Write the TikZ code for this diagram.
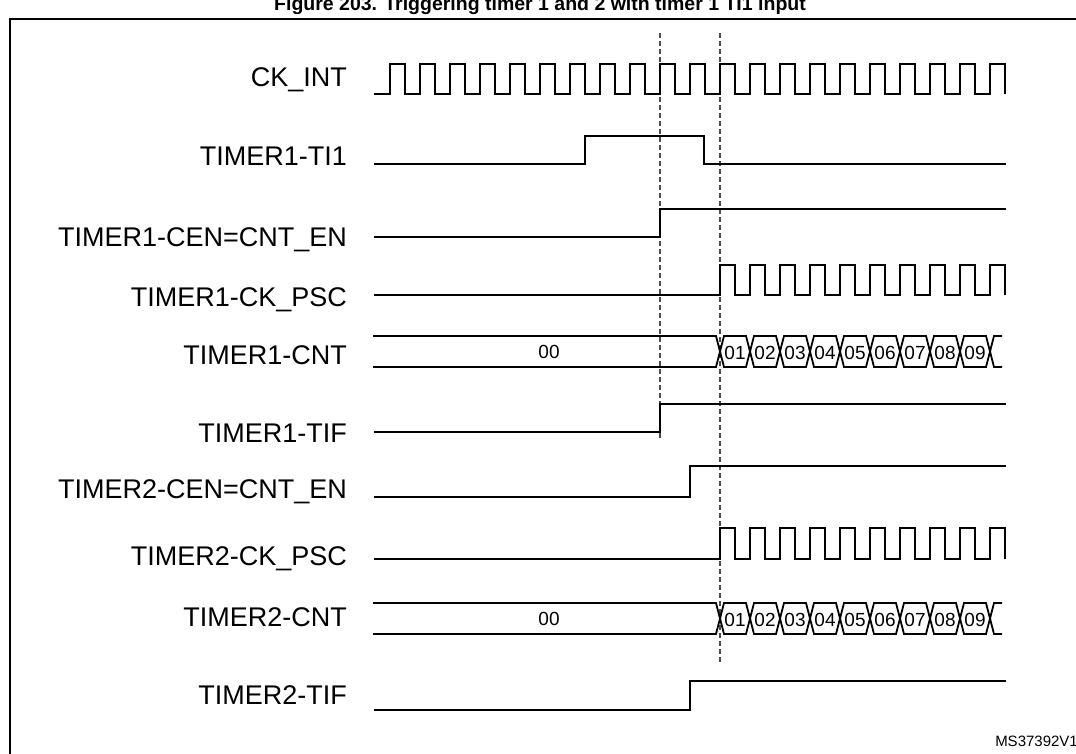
\documentclass[tikz,border=0pt]{standalone}
\usepackage{fontspec}
\setmainfont{Liberation Sans}
\begin{document}
\begin{tikzpicture}[x=1pt,y=-1pt,
  sig/.style={line width=1.8pt, line join=miter},
  frame/.style={line width=2.6pt},
  guide/.style={line width=1.2pt, draw=black!70, dash pattern=on 5pt off 3pt},
  lbl/.style={anchor=base east, inner sep=0pt, font=\fontsize{27}{30}\selectfont},
  val/.style={inner sep=0pt, font=\fontsize{19}{21}\selectfont},
  ttl/.style={anchor=base, inner sep=0pt, font=\fontsize{19.5}{22}\selectfont\bfseries},
  ref/.style={anchor=base east, inner sep=0pt, font=\fontsize{15}{18}\selectfont}]
\useasboundingbox (0,0) rectangle (1076,753);
\fill[white] (0,0) rectangle (1076,753);
\clip (0,0) rectangle (1076,753);

% title (cut at top) and frame
\node[ttl] (title) at (540,10) {Figure 203. Triggering timer 1 and 2 with timer 1 TI1 input};
\draw[frame] (1100,19) -- (10,19) -- (10,780);

% dashed guides
\draw[guide] (660,33) -- (660,440);
\draw[guide] (720,33) -- (720,662);

% labels
\node[lbl] (lck)   at (347,86)  {CK\_INT};
\node[lbl] (lti1)  at (347,165) {TIMER1-TI1};
\node[lbl] (lcen1) at (347,246) {TIMER1-CEN=CNT\_EN};
\node[lbl] (lpsc1) at (347,306) {TIMER1-CK\_PSC};
\node[lbl] (lcnt1) at (347,364) {TIMER1-CNT};
\node[lbl] (ltif1) at (347,442) {TIMER1-TIF};
\node[lbl] (lcen2) at (347,498) {TIMER2-CEN=CNT\_EN};
\node[lbl] (lpsc2) at (347,565) {TIMER2-CK\_PSC};
\node[lbl] (lcnt2) at (347,626) {TIMER2-CNT};
\node[lbl] (ltif2) at (347,704) {TIMER2-TIF};

% CK_INT
\draw[sig] (374,94) \foreach \k in {0,...,20}{
  -- ({390+30*\k},94) -- ({390+30*\k},64) -- ({405+30*\k},64) -- ({405+30*\k},94)};

% TIMER1-TI1
\draw[sig] (374,164) -- (585,164) -- (585,136) -- (704,136) -- (704,164) -- (1006,164);
% TIMER1-CEN
\draw[sig] (374,237) -- (660,237) -- (660,209) -- (1006,209);
% TIMER1-CK_PSC
\draw[sig] (374,295) \foreach \k in {0,...,9}{
  -- ({720+30*\k},295) -- ({720+30*\k},265) -- ({735+30*\k},265) -- ({735+30*\k},295)};
% TIMER1-CNT
\draw[sig] (373,336) -- (716,336) -- (720,351.5) -- (716,367) -- (373,367);
\node[val] (v1a) at (549,351.5) {00};
\foreach \i in {1,...,9}{
  \draw[sig] ({720+30*(\i-1)},351.5) -- ({724+30*(\i-1)},336) -- ({746+30*(\i-1)},336)
     -- ({750+30*(\i-1)},351.5) -- ({746+30*(\i-1)},367) -- ({724+30*(\i-1)},367) -- cycle;
  \node[val] at ({735+30*(\i-1)},352.5) {0\i};
}
\draw[sig] (1002,336) -- (994,336) -- (990,351.5) -- (994,367) -- (1002,367);
% TIMER1-TIF
\draw[sig] (374,432) -- (660,432) -- (660,404) -- (1006,404);

% TIMER2-CEN
\draw[sig] (374,497) -- (690,497) -- (690,466) -- (1006,466);
% TIMER2-CK_PSC
\draw[sig] (374,559) \foreach \k in {0,...,9}{
  -- ({720+30*\k},559) -- ({720+30*\k},528) -- ({735+30*\k},528) -- ({735+30*\k},559)};
% TIMER2-CNT
\draw[sig] (373,603) -- (716,603) -- (720,618.5) -- (716,634) -- (373,634);
\node[val] (v2a) at (549,618.5) {00};
\foreach \i in {1,...,9}{
  \draw[sig] ({720+30*(\i-1)},618.5) -- ({724+30*(\i-1)},603) -- ({746+30*(\i-1)},603)
     -- ({750+30*(\i-1)},618.5) -- ({746+30*(\i-1)},634) -- ({724+30*(\i-1)},634) -- cycle;
  \node[val] at ({735+30*(\i-1)},619.5) {0\i};
}
\draw[sig] (1002,603) -- (994,603) -- (990,618.5) -- (994,634) -- (1002,634);
% TIMER2-TIF
\draw[sig] (374,710) -- (690,710) -- (690,681) -- (1006,681);

% reference code
\node[ref] (code) at (1078,746) {MS37392V1};
\end{tikzpicture}
\end{document}
